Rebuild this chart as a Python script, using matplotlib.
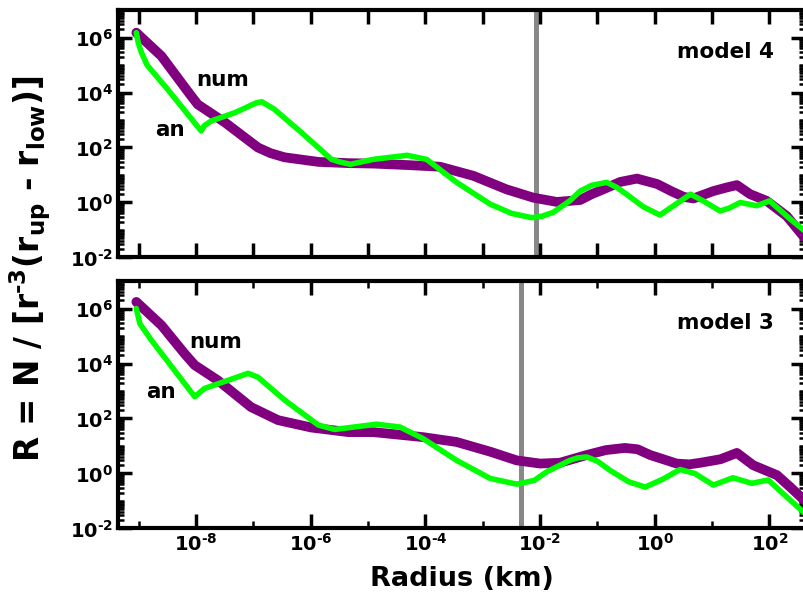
"""
Ratio R of numerical and analytical size distributions for two models.
"""

import numpy as np
import matplotlib
matplotlib.use("Agg")
import matplotlib.pyplot as plt
from matplotlib.ticker import FixedLocator, FuncFormatter, NullFormatter

plt.rcParams['font.family'] = 'DejaVu Sans'
plt.rcParams['font.weight'] = 'bold'
plt.rcParams['mathtext.fontset'] = 'custom'
plt.rcParams['mathtext.rm'] = 'DejaVu Sans:bold'
plt.rcParams['mathtext.it'] = 'DejaVu Sans:bold'
plt.rcParams['mathtext.bf'] = 'DejaVu Sans:bold'

HYPHEN = '\u2010'

# ==============================================================================
#                               Data (read off)
# ==============================================================================

# model 4, numerical
m4_num_r = [9.1e-10, 2.5e-9, 7.8e-9, 1.07e-8, 3.2e-8, 1.2e-7, 2.0e-7, 3.5e-7,
            1.35e-6, 4.5e-6, 1.23e-5, 4.8e-5, 1.8e-4, 6.9e-4, 2.6e-3, 7.6e-3,
            1.95e-2, 5.0e-2, 7.9e-2, 1.26e-1, 2.5e-1, 4.9e-1, 1.1, 2.0, 3.2,
            4.7, 10.5, 17.8, 27.0, 46.0, 89.0, 200.0, 417.0]
m4_num_R = [1.5e6, 2.1e5, 8.7e3, 3.7e3, 8.1e2, 1.0e2, 62.0, 44.0,
            30.0, 27.0, 26.0, 23.0, 20.0, 9.3, 3.0, 1.5,
            1.05, 1.23, 2.0, 3.0, 5.6, 7.4, 4.7, 2.5, 1.6,
            1.4, 2.6, 3.5, 4.3, 2.0, 1.15, 0.32, 0.05]

# model 4, analytical
m4_an_r = [9.1e-10, 9.8e-10, 1.12e-9, 1.4e-9, 3.2e-9, 1.23e-8, 1.4e-8,
           1.86e-8, 4.8e-8, 1.12e-7, 1.4e-7, 2.3e-7, 6.9e-7, 2.3e-6,
           3.2e-6, 4.9e-6, 1.23e-5, 4.8e-5, 1.05e-4, 3.5e-4, 1.35e-3,
           3.2e-3, 7.2e-3, 1.1e-2, 1.7e-2, 3.3e-2, 5.0e-2, 7.9e-2, 1.45e-1,
           2.2e-1, 3.2e-1, 0.63, 1.23, 2.2, 4.2, 7.1, 13.8, 20.0, 31.0,
           60.0, 100.0, 230.0, 417.0]
m4_an_R = [1.5e6, 6.6e5, 2.8e5, 1.0e5, 1.3e4, 4.0e2, 6.3e2,
           9.3e2, 1.86e3, 4.2e3, 4.6e3, 2.5e3, 3.5e2, 37.0,
           30.0, 24.5, 37.0, 52.0, 37.0, 5.4, 0.87,
           0.40, 0.28, 0.32, 0.44, 1.15, 2.6, 4.2, 5.4,
           3.5, 2.0, 0.70, 0.35, 0.80, 2.0, 1.12, 0.49, 0.63, 1.0,
           0.76, 1.15, 0.25, 0.09]

# model 3, numerical
m3_num_r = [9.1e-10, 2.5e-9, 6.3e-9, 9.5e-9, 2.4e-8, 9.1e-8, 2.7e-7,
            1.02e-6, 4.5e-6, 1.23e-5, 9.1e-5, 3.5e-4, 1.35e-3, 3.9e-3,
            1.0e-2, 2.2e-2, 6.5e-2, 1.4e-1, 3.0e-1, 5.0e-1, 0.83, 2.4, 4.0,
            6.2, 14.0, 27.0, 52.0, 135.0, 230.0, 417.0]
m3_num_R = [1.74e6, 2.45e5, 2.3e4, 8.7e3, 2.45e3, 2.6e2, 87.0,
            47.0, 32.0, 32.0, 21.0, 14.0, 6.2, 3.0,
            2.3, 2.45, 4.7, 7.1, 8.5, 7.6, 4.7, 2.3, 2.15,
            2.45, 3.3, 5.6, 2.0, 0.87, 0.32, 0.1]

# model 3, analytical
m3_an_r = [9.1e-10, 1.05e-9, 1.66e-9, 9.5e-9, 1.4e-8, 8.1e-8, 1.2e-7,
           3.5e-7, 1.35e-6, 2.6e-6, 4.5e-6, 1.4e-5, 3.6e-5, 9.1e-5,
           3.5e-4, 1.35e-3, 3.9e-3, 7.9e-3, 1.3e-2, 3.3e-2, 4.5e-2, 6.5e-2,
           0.1, 1.66e-1, 0.35, 0.68, 1.4, 2.75, 5.0, 10.5, 23.0, 49.0, 95.0,
           200.0, 417.0]
m3_an_R = [1.0e6, 2.8e5, 7.1e4, 6.2e2, 1.23e3, 4.4e3, 3.2e3,
           4.7e2, 58.0, 40.0, 46.0, 62.0, 49.0, 18.6,
           3.0, 0.66, 0.41, 0.56, 1.15, 3.0, 3.7, 4.0,
           2.8, 1.3, 0.50, 0.32, 0.63, 1.4, 1.0, 0.38, 0.70, 0.44, 0.58,
           0.14, 0.035]

# radius of the vertical marker line in each model
m4_marker = 8.5e-3
m3_marker = 4.7e-3

# ==============================================================================
#                                  Plot
# ==============================================================================

num_color = '#800080'
an_color = '#00ff00'


def pow_label(v, pos):
    e = int(round(np.log10(v)))
    s = str(abs(e)) if e >= 0 else HYPHEN + str(abs(e))
    return r'$10^{%s}$' % s


fig = plt.figure(figsize=(8.04, 5.93), dpi=100)
ax_top = fig.add_axes([0.1468, 0.5658, 0.8545, 0.4173])
ax_bot = fig.add_axes([0.1468, 0.1088, 0.8545, 0.4173])

panels = [(ax_top, m4_num_r, m4_num_R, m4_an_r, m4_an_R, m4_marker, 'model 4',
           (0.1135, 0.693), (0.0534, 0.492)),
          (ax_bot, m3_num_r, m3_num_R, m3_an_r, m3_an_R, m3_marker, 'model 3',
           (0.104, 0.728), (0.0412, 0.526))]

for ax, nr, nR, ar, aR, mark, name, num_pos, an_pos in panels:
    ax.axvline(mark, color='#888888', lw=3.6, zorder=1)
    ax.plot(nr, nR, color=num_color, lw=7, solid_joinstyle='round',
            solid_capstyle='round', zorder=2)
    ax.plot(ar, aR, color=an_color, lw=4, solid_joinstyle='round',
            solid_capstyle='round', zorder=3)
    ax.set_xscale('log')
    ax.set_yscale('log')
    ax.set_xlim(10 ** -9.36, 10 ** 2.62)
    ax.set_ylim(1e-2, 1e7)

    ax.text(num_pos[0], num_pos[1], 'num', transform=ax.transAxes,
            fontsize=15.5, fontweight='bold', va='baseline')
    ax.text(an_pos[0], an_pos[1], 'an', transform=ax.transAxes,
            fontsize=15.5, fontweight='bold', va='baseline')
    ax.text(0.954, 0.808, name, transform=ax.transAxes, fontsize=15.5,
            fontweight='bold', ha='right', va='baseline')

    for s in ax.spines.values():
        s.set_linewidth(3)

    ax.yaxis.set_major_locator(FixedLocator([1e-2, 1e0, 1e2, 1e4, 1e6]))
    ax.yaxis.set_minor_locator(FixedLocator(
        [m * 10.0 ** e for e in range(-2, 7) for m in range(1, 10)]))
    ax.yaxis.set_major_formatter(FuncFormatter(pow_label))
    ax.yaxis.set_minor_formatter(NullFormatter())
    ax.tick_params(which='both', direction='in', top=True, right=True,
                   labelsize=14)
    ax.tick_params(which='major', length=10, width=2.5)
    ax.tick_params(which='minor', length=4.5, width=1.8)

# top panel: a tick at every decade, no labels
ax_top.xaxis.set_major_locator(FixedLocator([10.0 ** e for e in range(-9, 3)]))
ax_top.xaxis.set_minor_locator(FixedLocator([]))
ax_top.tick_params(axis='x', labelbottom=False)

# bottom panel: labels every second decade
ax_bot.xaxis.set_major_locator(FixedLocator([10.0 ** e for e in range(-8, 3, 2)]))
ax_bot.xaxis.set_minor_locator(FixedLocator([10.0 ** e for e in range(-9, 3, 2)]))
ax_bot.xaxis.set_major_formatter(FuncFormatter(pow_label))
ax_bot.xaxis.set_minor_formatter(NullFormatter())
ax_bot.tick_params(axis='x', which='minor', length=5)
ax_bot.set_xlabel('Radius (km)', fontsize=19.5, fontweight='bold', labelpad=8)

fig.text(0.038, 0.547,
         r'R = N / [r$^{%s3}$(r$_{up}$ - r$_{low}$)]' % HYPHEN,
         rotation=90, fontsize=23.5, fontweight='bold', ha='center', va='center')

fig.savefig('out.png', dpi=100)
